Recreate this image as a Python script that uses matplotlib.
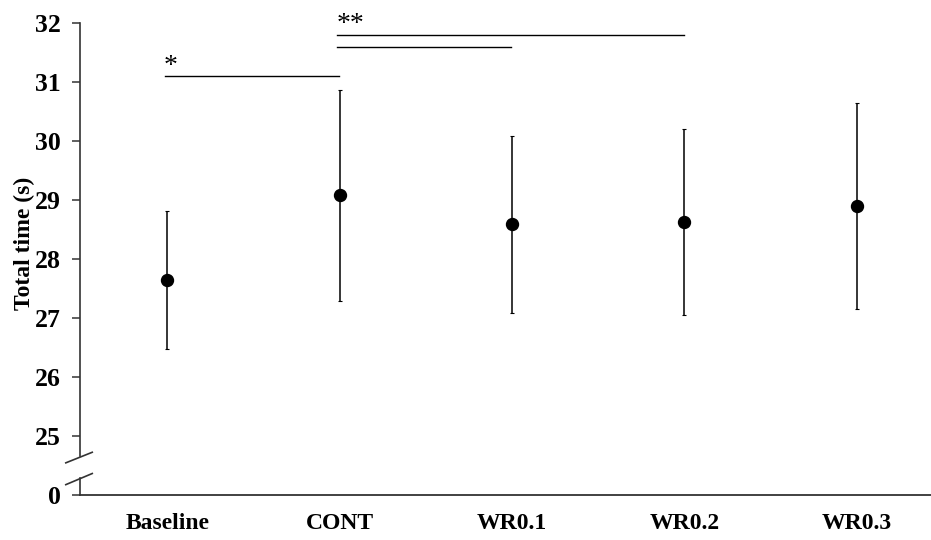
import matplotlib
matplotlib.use("Agg")
import matplotlib.pyplot as plt
import matplotlib.transforms as mtransforms

# ---- data ----
categories = ["Baseline", "CONT", "WR0.1", "WR0.2", "WR0.3"]
means = [27.65, 29.08, 28.59, 28.63, 28.90]
sds = [1.17, 1.79, 1.50, 1.58, 1.74]

# axis ticks (the "0" sits just below the break)
ytick_values = [24, 25, 26, 27, 28, 29, 30, 31, 32]
ytick_labels = ["0", "25", "26", "27", "28", "29", "30", "31", "32"]

# significance brackets: (from index, to index, height, label)
comparisons = [
    (0, 1, 31.10, "*"),
    (1, 2, 31.60, ""),
    (1, 3, 31.81, "**"),
]

plt.rcParams["font.family"] = ["Liberation Serif", "DejaVu Serif"]

fig = plt.figure(figsize=(9.31, 5.40), dpi=100)
ax = fig.add_axes([80 / 931, 45 / 540, 851 / 931, (495 - 23.3) / 540])

x = list(range(len(categories)))
ax.errorbar(x, means, yerr=sds, fmt="o", color="black", ecolor="black",
            markersize=8.6, elinewidth=1.1, capsize=1.5, capthick=0.8)

ax.set_xlim(-0.507, 4.431)
ax.set_ylim(24, 32)

ax.set_yticks(ytick_values)
ax.set_yticklabels(ytick_labels, fontsize=18.5, fontweight="bold")
ax.set_xticks(x)
ax.set_xticklabels(categories, fontsize=17, fontweight="bold")
ax.tick_params(axis="y", direction="out", length=6, width=1.1, pad=8,
               color="#333333")
ax.tick_params(axis="x", length=0, pad=13)

for s in ["top", "right"]:
    ax.spines[s].set_visible(False)
ax.spines["bottom"].set_linewidth(1.3)
ax.spines["bottom"].set_color("#333333")
ax.spines["left"].set_linewidth(1.2)
ax.spines["left"].set_color("#333333")
ax.spines["left"].set_bounds(24.66, 32)

blend = mtransforms.blended_transform_factory(ax.transAxes, ax.transData)
# lower segment of the broken axis
ax.plot([0, 0], [24, 24.28], transform=blend, color="#333333", lw=1.2,
        clip_on=False)
# break slashes
for y0, y1 in [(24.54, 24.73), (24.17, 24.37)]:
    ax.plot([-0.0176, 0.0153], [y0, y1], transform=blend, color="#333333",
            lw=1.2, clip_on=False, solid_capstyle="butt")

# significance lines
for i0, i1, h, lab in comparisons:
    ax.plot([i0 - 0.013, i1 - 0.005], [h, h], color="black", lw=1.0,
            clip_on=False)
    if lab:
        ax.text(i0 - 0.02, h - 0.05, lab, ha="left", va="bottom",
                fontsize=20, clip_on=False)

ax.set_ylabel("Total time (s)", fontsize=17, fontweight="bold")
ax.yaxis.set_label_coords(-45 / 851, (495 - 243) / (495 - 23.3))

fig.savefig("out.png", dpi=100)
